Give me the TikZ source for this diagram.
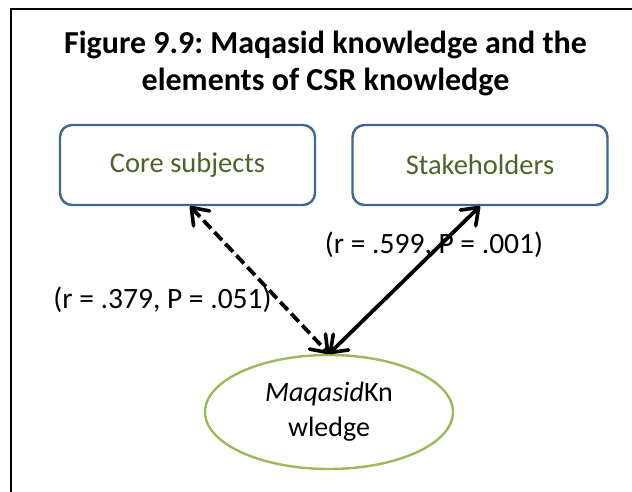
\documentclass[tikz,border=0pt]{standalone}
\usepackage{fontspec}
\setmainfont{Carlito}
\usetikzlibrary{arrows.meta,calc,shapes.geometric}
\definecolor{boxblue}{HTML}{3F6796}
\definecolor{txtgreen}{HTML}{4F6228}
\definecolor{ellgreen}{HTML}{9BBB59}
\tikzset{
  subjbox/.style={draw=boxblue,line width=2.4pt,rounded corners=12pt,minimum width=255pt,minimum height=80pt,inner sep=0pt,text=txtgreen,font=\fontsize{28.5}{34}\selectfont},
  mainell/.style={ellipse,draw=ellgreen,line width=2.4pt,minimum width=248pt,minimum height=114pt,inner sep=0pt,align=center,font=\fontsize{28}{35}\selectfont},
  lbl/.style={font=\fontsize{29.5}{34}\selectfont,inner sep=0pt},
  barb/.tip={Straight Barb[length=15pt,width=22pt,line width=3.6pt,round]},
  arr/.style={line width=3.8pt,barb-barb},
}
\begin{document}
\frenchspacing
\begin{tikzpicture}[x=1pt,y=-1pt]
\useasboundingbox (0,0) rectangle (632,492);
\draw[line width=2pt] (11,492) -- (11,9) -- (632,9);
\node[font=\bfseries\fontsize{32}{37}\selectfont,align=center] (title) at (325.5,63) {Figure 9.9: Maqasid knowledge and the\\elements of CSR knowledge};
\node[subjbox] (core) at (187.5,165) {Core subjects};
\node[subjbox] (stake) at (480,165) {Stakeholders};
\node[mainell] (mk) at (329,412) {\textit{Maqasid}Kn\\wledge};
\coordinate (coreend) at ($(core.south west)!0.51!(core.south east)$);
\draw[arr,dash pattern=on 11pt off 5pt] (coreend) -- (mk.north);
\draw[arr] (stake.south) -- (mk.north);
\node[lbl] (l1) at (162.5,300) {(r = .379, P = .051)};
\node[lbl] (l2) at (434,245) {(r = .599, P = .001)};
\end{tikzpicture}
\end{document}
